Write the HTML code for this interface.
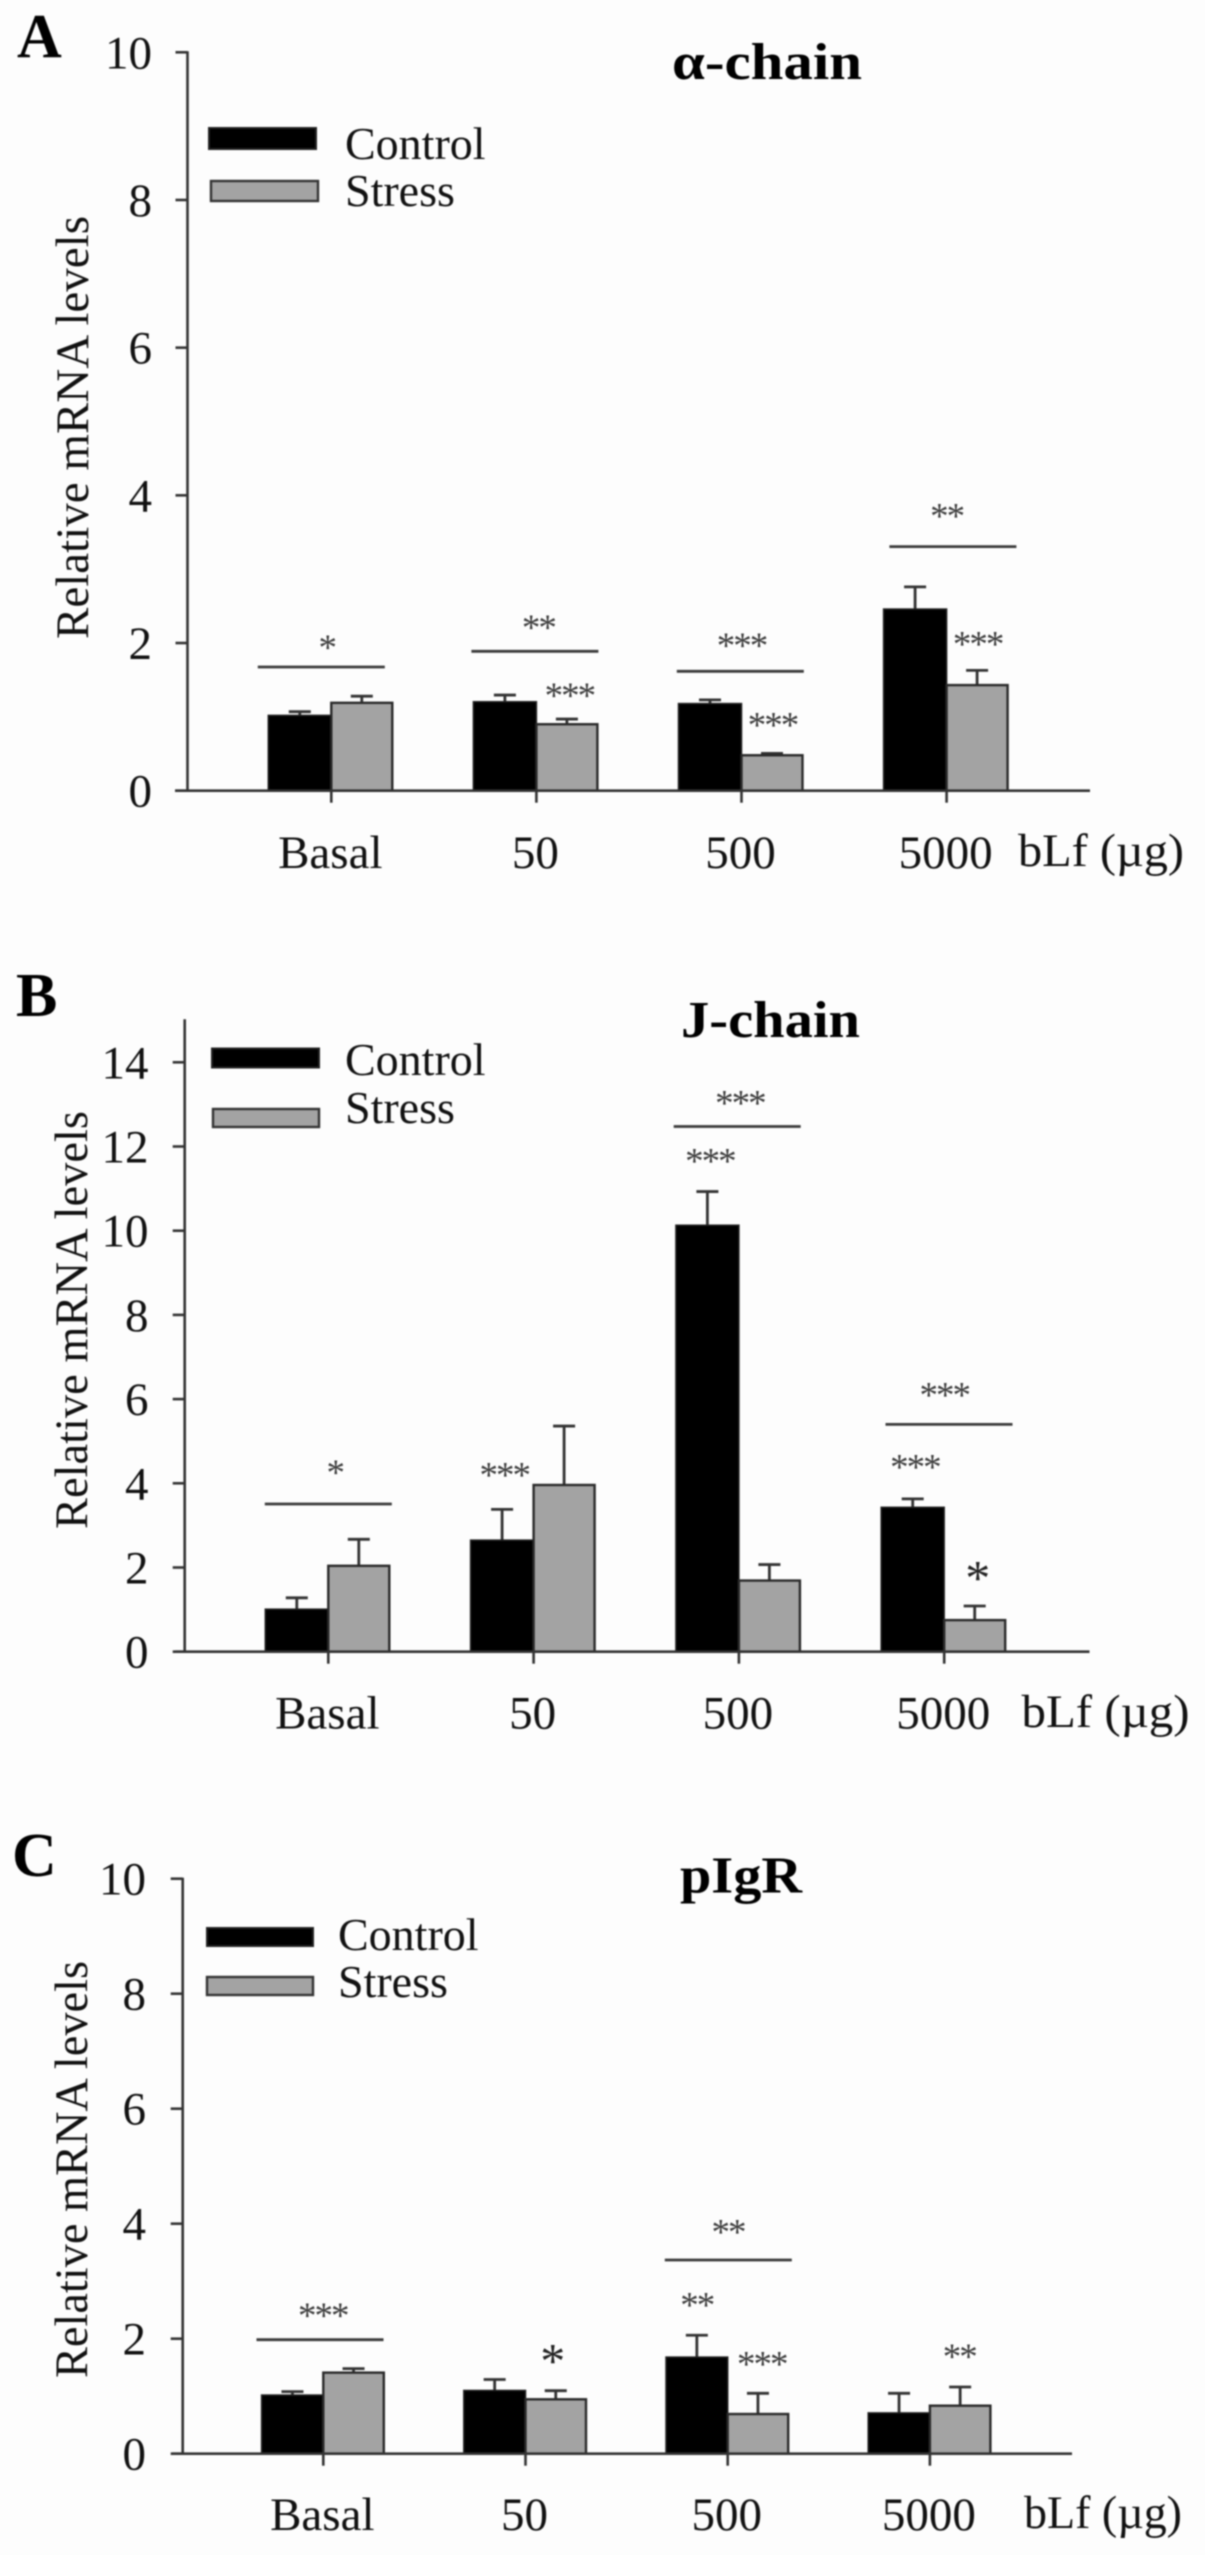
<!DOCTYPE html>
<html lang="en">
<head>
<meta charset="utf-8">
<title>Relative mRNA levels: alpha-chain, J-chain, pIgR</title>
<style>
html,body{margin:0;padding:0;background:#fdfdfd;}
svg{display:block;}
text{font-family:"Liberation Serif",serif;fill:#111;}
.tick{font-size:47px;}
.cat{font-size:47px;text-anchor:middle;}
.leg{font-size:46px;}
.ylab{font-size:46.5px;text-anchor:middle;}
.title{font-size:52px;font-weight:bold;fill:#000;}
.letter{font-size:62px;font-weight:bold;fill:#000;}
.star{font-size:37px;letter-spacing:-2px;text-anchor:middle;fill:#3c3c3c;}
.star-big{font-size:50px;text-anchor:middle;fill:#222;}
</style>
</head>
<body>
<svg id="figure" xmlns="http://www.w3.org/2000/svg" width="1205" height="2555" viewBox="0 0 1205 2555">
<defs><filter id="soft" x="0" y="0" width="100%" height="100%" color-interpolation-filters="sRGB"><feGaussianBlur stdDeviation="0.7"/></filter></defs>
<rect width="1205" height="2555" fill="#fdfdfd"/>
<g id="root" filter="url(#soft)">

<g id="panelA">
<text class="letter" x="17" y="57">A</text>
<text class="title" x="672" y="79" textLength="190" lengthAdjust="spacingAndGlyphs">α-chain</text>
<text class="ylab" transform="translate(88 427.5) rotate(-90)" textLength="423" lengthAdjust="spacingAndGlyphs">Relative mRNA levels</text>
<rect x="209" y="128" width="107" height="21" fill="#000" stroke="#222" stroke-width="2"/>
<rect x="211" y="181" width="107" height="20" fill="#a3a3a3" stroke="#333" stroke-width="2.4"/>
<text class="leg" x="345" y="159">Control</text>
<text class="leg" x="345" y="206">Stress</text>
<text class="tick" x="1018" y="866" textLength="166" lengthAdjust="spacingAndGlyphs">bLf (µg)</text>
</g>

<g id="panelB">
<text class="letter" x="16" y="1016">B</text>
<text class="title" x="681" y="1037" textLength="179" lengthAdjust="spacingAndGlyphs">J-chain</text>
<text class="ylab" transform="translate(87 1320) rotate(-90)" textLength="418" lengthAdjust="spacingAndGlyphs">Relative mRNA levels</text>
<rect x="212" y="1048.500" width="107" height="19" fill="#000" stroke="#222" stroke-width="2"/>
<rect x="213" y="1109" width="106" height="18" fill="#a3a3a3" stroke="#333" stroke-width="2.4"/>
<text class="leg" x="345" y="1075">Control</text>
<text class="leg" x="345" y="1123">Stress</text>
<text class="tick" x="1021.500" y="1727" textLength="168" lengthAdjust="spacingAndGlyphs">bLf (µg)</text>
</g>

<g id="panelC">
<text class="letter" x="12" y="1876">C</text>
<text class="title" x="680" y="1892.500" textLength="122" lengthAdjust="spacingAndGlyphs">pIgR</text>
<text class="ylab" transform="translate(87 2169.500) rotate(-90)" textLength="417" lengthAdjust="spacingAndGlyphs">Relative mRNA levels</text>
<rect x="207" y="1928" width="106" height="18" fill="#000" stroke="#222" stroke-width="2"/>
<rect x="207" y="1977" width="106" height="18" fill="#a3a3a3" stroke="#333" stroke-width="2.4"/>
<text class="leg" x="338" y="1950">Control</text>
<text class="leg" x="338" y="1997">Stress</text>
<text class="tick" x="1024" y="2528" textLength="158" lengthAdjust="spacingAndGlyphs">bLf (µg)</text>
</g>
</g>
</svg>

<script>
// Shared categories
var categories = ['Basal', '50', '500', '5000'];

// Panel A: alpha-chain
var aTicks = [0, 2, 4, 6, 8, 10];
var aControl = [1.02, 1.205, 1.18, 2.46];
var aStress = [1.19, 0.90, 0.48, 1.43];
var aControlErr = [0.05, 0.09, 0.05, 0.30];
var aStressErr = [0.09, 0.07, 0.025, 0.20];
var aBracketGroups = [0, 1, 2, 3];
var aBracketLevels = [1.675, 1.888, 1.617, 3.305];
var aStarLabels = ['*', '**', '***', '***', '***', '**', '***'];
var aStarGroups = [0, 1, 1, 2, 2, 3, 3];
var aStarLevels = [2.004, 2.275, 1.354, 2.031, 0.957, 3.788, 2.055];

// Panel B: J-chain
var bTicks = [0, 2, 4, 6, 8, 10, 12, 14];
var bControl = [1.01, 2.65, 10.13, 3.43];
var bStress = [2.04, 3.96, 1.69, 0.75];
var bControlErr = [0.27, 0.73, 0.80, 0.20];
var bStressErr = [0.63, 1.40, 0.38, 0.335];
var bBracketGroups = [0, 2, 3];
var bBracketLevels = [3.508, 12.475, 5.40];
var bStarLabels = ['*', '***', '***', '***', '***', '***', '*'];
var bStarGroups = [0, 1, 2, 2, 3, 3, 3];
var bStarLevels = [4.37, 4.316, 13.15, 11.77, 6.216, 4.506, 1.917];

// Panel C: pIgR
var cTicks = [0, 2, 4, 6, 8, 10];
var cControl = [1.02, 1.10, 1.68, 0.71];
var cStress = [1.41, 0.946, 0.69, 0.835];
var cControlErr = [0.06, 0.19, 0.38, 0.34];
var cStressErr = [0.07, 0.15, 0.36, 0.325];
var cBracketGroups = [0, 2];
var cBracketLevels = [1.983, 3.369];
var cStarLabels = ['***', '*', '**', '**', '***', '**'];
var cStarGroups = [0, 1, 2, 2, 2, 3];
var cStarLevels = [2.487, 1.734, 3.943, 2.673, 1.642, 1.774];

var NS = 'http://www.w3.org/2000/svg';

function make(parent, tag, attrs) {
  var el = document.createElementNS(NS, tag);
  for (var k in attrs) { el.setAttribute(k, attrs[k]); }
  parent.appendChild(el);
  return el;
}

function drawPanel(p) {
  var g = document.getElementById(p.id);
  var yScale = function (v) { return p.y0 - v * p.k; };
  var xScale = function (i) { return p.x0 + i * p.step; };
  var el;

  // y axis
  el = make(g, 'line', {x1: p.axisX, x2: p.axisX, y1: yScale(p.yMax) - 1, y2: p.y0, stroke: '#333', 'stroke-width': 2.6});
  
  

  p.ticks.forEach(function (t) {
    var tm = make(g, 'line', {x1: p.axisX - 12, x2: p.axisX, y1: yScale(t), y2: yScale(t), stroke: '#333', 'stroke-width': 2.6});
    
    
    var tl = make(g, 'text', {'class': 'tick', x: p.labelRight, y: yScale(t) + 16, 'text-anchor': 'end'});
    tl.textContent = String(t);
    
    
  });

  // bars and error bars
  categories.forEach(function (cat, i) {
    var x = xScale(i);
    var cv = p.control[i], sv = p.stress[i];
    var ce = p.controlErr[i], se = p.stressErr[i];
    var cc = x - p.blackW / 2, sc = x + p.grayW / 2;

    [[cc, cv, ce, 'control'], [sc, sv, se, 'stress']].forEach(function (s) {
      var stem = make(g, 'line', {x1: s[0], x2: s[0], y1: yScale(s[1]), y2: yScale(s[1] + s[2]), stroke: '#333', 'stroke-width': 2.8});
      
      
      var cap = make(g, 'line', {x1: s[0] - 11, x2: s[0] + 11, y1: yScale(s[1] + s[2]), y2: yScale(s[1] + s[2]), stroke: '#333', 'stroke-width': 2.8});
      
      
    });

    var rc = make(g, 'rect', {x: x - p.blackW, y: yScale(cv), width: p.blackW, height: p.y0 - yScale(cv), fill: '#000', stroke: '#222', 'stroke-width': 1.5});
    
    
    var rs = make(g, 'rect', {x: x, y: yScale(sv), width: p.grayW, height: p.y0 - yScale(sv), fill: '#a3a3a3', stroke: '#2a2a2a', 'stroke-width': 2.4});
    
    

    var xt = make(g, 'line', {x1: x, x2: x, y1: p.y0, y2: p.y0 + 12, stroke: '#333', 'stroke-width': 2.6});
    
    
    var xl = make(g, 'text', {'class': 'cat', x: x - 1, y: p.catY});
    xl.textContent = cat;
    
    
  });

  // x axis
  el = make(g, 'line', {x1: p.xLeft, x2: p.xRight, y1: p.y0, y2: p.y0, stroke: '#333', 'stroke-width': 2.6});
  
  

  // significance brackets
  p.bracketGroups.forEach(function (grp, i) {
    var cx = xScale(grp) + p.bracketShift[i];
    var yb = yScale(p.bracketLevels[i]);
    var ln = make(g, 'line', {x1: cx - 63.5, x2: cx + 63.5, y1: yb, y2: yb, stroke: '#3a3a3a', 'stroke-width': 2.8});
    
    
  });

  // significance stars
  p.starLabels.forEach(function (label, i) {
    var big = p.bigStars.indexOf(i) >= 0;
    var fs = big ? 50 : 37;
    var st = make(g, 'text', {'class': big ? 'star-big' : 'star', x: xScale(p.starGroups[i]) + p.starShift[i], y: yScale(p.starLevels[i]) + 0.47 * fs});
    st.textContent = label;
    
    
  });
}

drawPanel({
  id: 'panelA', y0: 790.7, k: 73.84, yMax: 10, axisX: 187.5, labelRight: 152,
  x0: 331.3, step: 205.1, blackW: 63, grayW: 61, xLeft: 175, xRight: 1090, catY: 868,
  ticks: aTicks, control: aControl, stress: aStress, controlErr: aControlErr, stressErr: aStressErr,
  bracketGroups: aBracketGroups, bracketLevels: aBracketLevels, bracketShift: [-10, -1.5, -1.2, 6.3],
  starLabels: aStarLabels, starGroups: aStarGroups, starLevels: aStarLevels,
  starShift: [-4.6, 2, 33, 0, 31, 0, 31], bigStars: []
});
drawPanel({
  id: 'panelB', y0: 1651.7, k: 42.1, yMax: 15, axisX: 184.7, labelRight: 148.5,
  x0: 328.3, step: 205.3, blackW: 63, grayW: 61, xLeft: 175, xRight: 1089.5, catY: 1728.5,
  ticks: bTicks, control: bControl, stress: bStress, controlErr: bControlErr, stressErr: bStressErr,
  bracketGroups: bBracketGroups, bracketLevels: bBracketLevels, bracketShift: [0, -1.7, 4.8],
  starLabels: bStarLabels, starGroups: bStarGroups, starLevels: bStarLevels,
  starShift: [6.4, -29.3, 1, -29, 0, -29.3, 33.5], bigStars: [6]
});
drawPanel({
  id: 'panelC', y0: 2453.7, k: 57.5, yMax: 10, axisX: 182.7, labelRight: 146,
  x0: 323.3, step: 202.2, blackW: 61.7, grayW: 60.5, xLeft: 172, xRight: 1072, catY: 2530,
  ticks: cTicks, control: cControl, stress: cStress, controlErr: cControlErr, stressErr: cStressErr,
  bracketGroups: cBracketGroups, bracketLevels: cBracketLevels, bracketShift: [-3.3, 0.6],
  starLabels: cStarLabels, starGroups: cStarGroups, starLevels: cStarLevels,
  starShift: [-0.6, 27.3, 0.3, -31, 34, 29.3], bigStars: [1]
});
</script>
</body>
</html>
